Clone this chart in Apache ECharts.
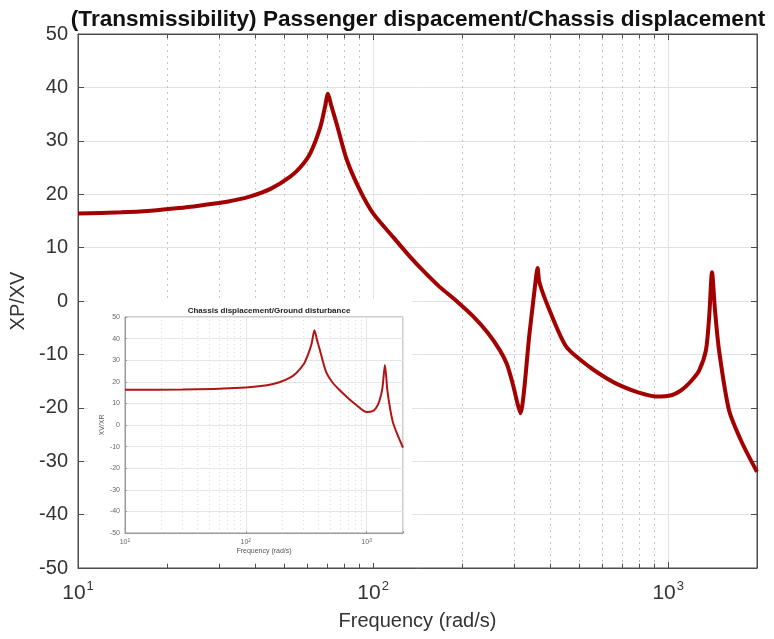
<!DOCTYPE html>
<html lang="en">
<head>
    <meta charset="UTF-8">
    <title>Transmissibility</title>
    <style>
        * { margin: 0; padding: 0; }
        body { background: #fff; }
        #main { width: 774px; height: 639px; }
    </style>
</head>
<body>
    <div id="main"></div>
    <script src="https://cdn.jsdelivr.net/npm/echarts@6/dist/echarts.min.js"></script>
    <script>
        // main curve: passenger / chassis displacement (dB)
        var mainFreq = [10, 14, 17.65, 22, 26, 32, 38.4, 44.9, 52.4, 57, 61.3, 66.2, 68.8, 70.3, 72, 75.4, 81.5, 90.3,
            100, 116.8, 133.3, 150, 168.4, 190, 217.6, 245, 268.7, 284, 297, 308, 315.5, 339, 355, 360.9, 366, 396,
            452, 540, 620, 699, 800, 910, 1031, 1120, 1205, 1274, 1343, 1377, 1408, 1440, 1487, 1607, 1778, 2000];
        var mainVal = [16.4, 16.6, 16.9, 17.4, 17.9, 18.6, 19.6, 21.0, 23.3, 25.2, 27.7, 32.5, 36.5, 38.8, 36.8, 33.0, 26.4, 20.7,
            16.4, 12, 8.3, 5.3, 2.6, 0.2, -2.8, -6, -9.2, -11.8, -15.4, -19, -21, -6, 3.5, 6.2, 3.5, -1.7,
            -8.6, -12.3, -14.5, -16, -17.2, -17.9, -17.6, -16.5, -14.8, -13, -9.2, -3, 5.4, -1.5, -9.2, -20.4, -26.5, -32];

        // inset curve: chassis displacement / ground disturbance (dB)
        var insetFreq = [10, 30, 100, 150, 190, 230, 261, 300, 326, 350, 370, 390, 407, 461, 520, 594, 700, 816,
            1000, 1122, 1200, 1273, 1350, 1417, 1489, 1640, 1800, 2000];
        var insetVal = [16.3, 16.4, 17.4, 18.4, 19.8, 21.8, 24, 28, 32.4, 37.5, 43.9, 39, 35.4, 24.7, 19.8, 16.3, 12.5, 9.4,
            6, 6.4, 8, 11, 17, 27.8, 15.5, 1.8, -4.5, -10.5];

        // minor log grid positions
        var minorTicks = [20, 30, 40, 50, 60, 70, 80, 90, 200, 300, 400, 500, 600, 700, 800, 900];
        var yTicks = [-50, 50, 10];

        function pairs(xs, ys) {
            var out = [];
            for (var i = 0; i < xs.length; i++) out.push([xs[i], ys[i]]);
            return out;
        }
        function minorLines() {
            var d = [];
            for (var i = 0; i < minorTicks.length; i++) {
                d.push({ xAxis: minorTicks[i] });
            }
            return d;
        }
        function minorTickMarks(y0, y1) {
            var d = [];
            for (var i = 0; i < minorTicks.length; i++) {
                d.push([{ coord: [minorTicks[i], y0] }, { coord: [minorTicks[i], y1] }]);
            }
            return d;
        }
        function powLabel(v) {
            var e = Math.round(Math.log(v) / Math.LN10);
            if (Math.abs(Math.pow(10, e) - v) > 1e-6 * v) return '';
            return '{b|10}{s|' + e + '}';
        }

        var fontFam = 'Liberation Sans, Arial, sans-serif';
        var axisCol = '#4d4d4d';
        var textCol = '#333';

        var chart = echarts.init(document.getElementById('main'));
        var option = {
            animation: false,
            backgroundColor: '#fff',
            title: [{
                text: '(Transmissibility) Passenger dispacement/Chassis displacement',
                left: 413, top: 3, textAlign: 'center',
                textStyle: { fontFamily: fontFam, fontSize: 22.6, fontWeight: 'bold', color: '#111' }
            }, {
                text: 'Chassis displacement/Ground disturbance',
                left: 264, top: 302, textAlign: 'center', z: 60,
                textStyle: { fontFamily: fontFam, fontSize: 8, fontWeight: 'bold', color: '#222' }
            }],
            graphic: {
                elements: [{
                    type: 'rect', z: 50, silent: true,
                    shape: { x: 88, y: 299, width: 324, height: 264 },
                    style: { fill: '#fff' }
                }]
            },
            grid: [
                { left: 78, right: 17, top: 34, bottom: 71, show: true, borderColor: axisCol, borderWidth: 1 },
                { left: 125, right: 371, top: 317, bottom: 106, show: true, borderColor: '#999', borderWidth: 1, z: 60 }
            ],
            xAxis: [{
                type: 'log', gridIndex: 0, min: 10, max: 2000, logBase: 10,
                name: 'Frequency (rad/s)', nameLocation: 'middle', nameGap: 43,
                nameTextStyle: { fontFamily: fontFam, fontSize: 20, color: textCol },
                axisLine: { onZero: false, lineStyle: { color: axisCol } },
                axisTick: { inside: true, length: 6, lineStyle: { color: axisCol } },
                axisLabel: {
                    formatter: powLabel, margin: 12, color: textCol,
                    rich: {
                        b: { fontFamily: fontFam, fontSize: 21, color: textCol, lineHeight: 26 },
                        s: { fontFamily: fontFam, fontSize: 13, color: textCol, verticalAlign: 'top', lineHeight: 26, padding: [0, 0, 12, 1] }
                    }
                },
                splitLine: { show: true, lineStyle: { color: '#e2e2e2' } }
            }, {
                type: 'log', gridIndex: 0, min: 10, max: 2000, logBase: 10, position: 'top',
                axisLine: { onZero: false, lineStyle: { color: axisCol } },
                axisTick: { inside: true, length: 6, lineStyle: { color: axisCol } },
                axisLabel: { show: false }, splitLine: { show: false }
            }, {
                type: 'log', gridIndex: 1, min: 10, max: 2000, logBase: 10, z: 60,
                name: 'Frequency (rad/s)', nameLocation: 'middle', nameGap: 15,
                nameTextStyle: { fontFamily: fontFam, fontSize: 7, color: '#555' },
                axisLine: { onZero: false, lineStyle: { color: '#999' } },
                axisTick: { inside: true, length: 2, lineStyle: { color: '#999' } },
                axisLabel: {
                    formatter: powLabel, margin: 5,
                    rich: {
                        b: { fontFamily: fontFam, fontSize: 7, color: '#666', lineHeight: 9 },
                        s: { fontFamily: fontFam, fontSize: 5, color: '#666', verticalAlign: 'top', lineHeight: 9, padding: [0, 0, 4, 0] }
                    }
                },
                splitLine: { show: true, lineStyle: { color: '#e6e6e6' } }
            }],
            yAxis: [{
                type: 'value', gridIndex: 0, min: yTicks[0], max: yTicks[1], interval: yTicks[2],
                name: 'XP/XV', nameLocation: 'middle', nameGap: 46,
                nameTextStyle: { fontFamily: fontFam, fontSize: 20, color: textCol },
                axisLine: { show: true, onZero: false, lineStyle: { color: axisCol } },
                axisTick: { show: true, inside: true, length: 6, lineStyle: { color: axisCol } },
                axisLabel: { fontFamily: fontFam, fontSize: 20, color: textCol, margin: 10 },
                splitLine: { show: true, lineStyle: { color: '#e2e2e2' } }
            }, {
                type: 'value', gridIndex: 0, min: yTicks[0], max: yTicks[1], interval: yTicks[2], position: 'right',
                axisLine: { show: true, onZero: false, lineStyle: { color: axisCol } },
                axisTick: { show: true, inside: true, length: 6, lineStyle: { color: axisCol } },
                axisLabel: { show: false }, splitLine: { show: false }
            }, {
                type: 'value', gridIndex: 1, min: yTicks[0], max: yTicks[1], interval: yTicks[2], z: 60,
                name: 'XV/XR', nameLocation: 'middle', nameGap: 19,
                nameTextStyle: { fontFamily: fontFam, fontSize: 7, color: '#555' },
                axisLine: { show: true, onZero: false, lineStyle: { color: '#999' } },
                axisTick: { show: true, inside: true, length: 2, lineStyle: { color: '#999' } },
                axisLabel: { fontFamily: fontFam, fontSize: 7, color: '#666', margin: 5 },
                splitLine: { show: true, lineStyle: { color: '#e6e6e6' } }
            }],
            series: [{
                // minor dotted grid + minor ticks of the main plot
                type: 'line', xAxisIndex: 0, yAxisIndex: 0, z: 1,
                data: [],
                markLine: {
                    z: 1, silent: true, symbol: 'none', label: { show: false },
                    lineStyle: { type: [2, 4], color: '#c4c4c4', width: 1 },
                    data: minorLines()
                }
            }, {
                type: 'line', xAxisIndex: 0, yAxisIndex: 0, z: 1,
                data: [],
                markLine: {
                    z: 1, silent: true, symbol: 'none', label: { show: false },
                    lineStyle: { type: 'solid', color: axisCol, width: 1 },
                    data: minorTickMarks(-50, -49.2).concat(minorTickMarks(50, 49.2))
                }
            }, {
                type: 'line', xAxisIndex: 0, yAxisIndex: 0, z: 3,
                data: pairs(mainFreq, mainVal),
                showSymbol: false, smooth: 0.25,
                lineStyle: { color: '#a30000', width: 4 }
            }, {
                // inset minor dotted grid
                type: 'line', xAxisIndex: 2, yAxisIndex: 2, z: 61,
                data: [],
                markLine: {
                    z: 61, silent: true, symbol: 'none', label: { show: false },
                    lineStyle: { type: [1, 3], color: '#dadada', width: 1 },
                    data: minorLines()
                }
            }, {
                type: 'line', xAxisIndex: 2, yAxisIndex: 2, z: 62,
                data: pairs(insetFreq, insetVal),
                showSymbol: false, smooth: 0.25,
                lineStyle: { color: '#b01515', width: 2 }
            }]
        };
        chart.setOption(option);
    </script>
</body>
</html>
